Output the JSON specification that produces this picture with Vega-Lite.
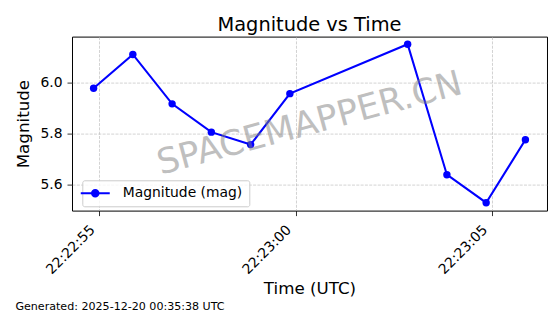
{
  "$schema": "https://vega.github.io/schema/vega-lite/v6.json",
  "background": "white",
  "padding": {"left": 15, "top": 13.6, "right": 16, "bottom": 3},
  "datasets": {
    "obs": [
      {"time": "2025-12-19T22:22:54.850Z", "mag": 5.978, "series": "Magnitude (mag)"},
      {"time": "2025-12-19T22:22:55.850Z", "mag": 6.111, "series": "Magnitude (mag)"},
      {"time": "2025-12-19T22:22:56.850Z", "mag": 5.917, "series": "Magnitude (mag)"},
      {"time": "2025-12-19T22:22:57.850Z", "mag": 5.806, "series": "Magnitude (mag)"},
      {"time": "2025-12-19T22:22:58.850Z", "mag": 5.757, "series": "Magnitude (mag)"},
      {"time": "2025-12-19T22:22:59.850Z", "mag": 5.957, "series": "Magnitude (mag)"},
      {"time": "2025-12-19T22:23:02.850Z", "mag": 6.151, "series": "Magnitude (mag)"},
      {"time": "2025-12-19T22:23:03.850Z", "mag": 5.639, "series": "Magnitude (mag)"},
      {"time": "2025-12-19T22:23:04.850Z", "mag": 5.529, "series": "Magnitude (mag)"},
      {"time": "2025-12-19T22:23:05.850Z", "mag": 5.776, "series": "Magnitude (mag)"}
    ],
    "mark": [
      {"time": "2025-12-19T22:23:00.350Z", "mag": 5.84, "label": "SPACEMAPPER.CN"}
    ]
  },
  "title": {
    "text": "Generated: 2025-12-20 00:35:38 UTC",
    "orient": "bottom",
    "anchor": "start",
    "frame": "bounds",
    "font": "DejaVu Sans",
    "fontSize": 11.1,
    "fontWeight": "normal",
    "color": "black",
    "offset": 3
  },
  "config": {
    "view": {"stroke": "black", "strokeWidth": 1},
    "axis": {
      "domain": false,
      "tickColor": "black",
      "tickSize": 5,
      "tickWidth": 0.8,
      "labelFont": "DejaVu Sans",
      "labelFontSize": 13.9,
      "labelColor": "black",
      "labelPadding": 5,
      "titleFont": "DejaVu Sans",
      "titleFontSize": 16.7,
      "titleFontWeight": "normal",
      "titleColor": "black",
      "gridColor": "#b0b0b0",
      "gridOpacity": 0.7,
      "gridDash": [3, 1.3],
      "gridWidth": 0.8
    }
  },
  "vconcat": [
    {
      "width": 475,
      "height": 174,
      "title": {
        "text": "Magnitude vs Time",
        "font": "DejaVu Sans",
        "fontSize": 19.4,
        "fontWeight": "normal",
        "color": "black",
        "anchor": "middle",
        "frame": "group",
        "offset": 1.4
      },
      "layer": [
        {
          "data": {"name": "obs"},
          "mark": {"type": "line", "strokeWidth": 2.08, "point": {"filled": true, "size": 55, "opacity": 1}},
          "encoding": {
            "x": {
              "field": "time",
              "type": "temporal",
              "scale": {
                "type": "utc",
                "domain": [
                  {"year": 2025, "month": 12, "date": 19, "hours": 22, "minutes": 22, "seconds": 54, "milliseconds": 300, "utc": true},
                  {"year": 2025, "month": 12, "date": 19, "hours": 22, "minutes": 23, "seconds": 6, "milliseconds": 400, "utc": true}
                ],
                "nice": false
              },
              "axis": {
                "title": "Time (UTC)",
                "format": "%H:%M:%S",
                "values": [
                  {"year": 2025, "month": 12, "date": 19, "hours": 22, "minutes": 22, "seconds": 55, "utc": true},
                  {"year": 2025, "month": 12, "date": 19, "hours": 22, "minutes": 23, "seconds": 0, "utc": true},
                  {"year": 2025, "month": 12, "date": 19, "hours": 22, "minutes": 23, "seconds": 5, "utc": true}
                ],
                "labelAngle": -45,
                "labelAlign": "right",
                "labelBaseline": "top",
                "labelOffset": -12,
                "labelPadding": 7,
                "titlePadding": 4
              }
            },
            "y": {
              "field": "mag",
              "type": "quantitative",
              "scale": {"domain": [5.498, 6.181], "nice": false, "zero": false},
              "axis": {"title": "Magnitude", "values": [5.6, 5.8, 6.0], "format": ".1f", "titlePadding": 7}
            },
            "color": {
              "field": "series",
              "type": "nominal",
              "scale": {"range": ["#0000ff"]},
              "legend": {
                "title": null,
                "orient": "none",
                "legendX": 10.3,
                "legendY": 143.7,
                "padding": 6,
                "strokeColor": "#cccccc",
                "fillColor": "rgba(255,255,255,0.8)",
                "cornerRadius": 2,
                "labelFont": "DejaVu Sans",
                "labelFontSize": 13.9,
                "labelColor": "black",
                "labelOffset": 20.5,
                "symbolSize": 100,
                "encode": {
                  "symbols": {
                    "update": {
                      "shape": {"value": "M-2.9,-0.2L2.9,-0.2L2.9,0.2L-2.9,0.2Z M-0.85,0A0.85,0.85 0 1,1 0.85,0A0.85,0.85 0 1,1 -0.85,0Z"},
                      "fill": {"value": "#0000ff"},
                      "fillOpacity": {"value": 1},
                      "stroke": {"value": "transparent"},
                      "strokeWidth": {"value": 0},
                      "opacity": {"value": 1}
                    }
                  }
                }
              }
            }
          }
        },
        {
          "data": {"name": "mark"},
          "mark": {"type": "text", "font": "DejaVu Sans", "fontSize": 35, "angle": -15, "align": "center", "baseline": "middle", "color": "gray", "opacity": 0.5},
          "encoding": {
            "x": {"field": "time", "type": "temporal"},
            "y": {"field": "mag", "type": "quantitative"},
            "text": {"field": "label"}
          }
        }
      ]
    }
  ]
}
